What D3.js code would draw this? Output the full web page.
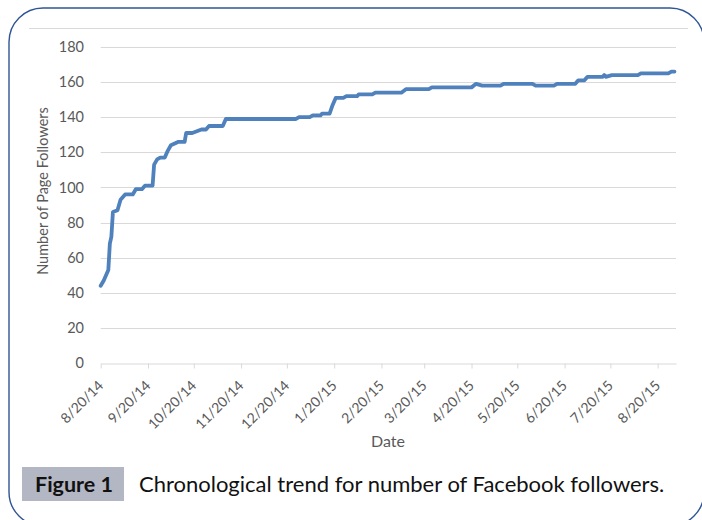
<!DOCTYPE html>
<html>
<head>
<meta charset="utf-8">
<script src="https://cdn.jsdelivr.net/npm/d3@7"></script>
<style>
  html, body { margin: 0; padding: 0; background: #fff; }
  svg { display: block; }
  text { font-family: Lato, "Open Sans", sans-serif; }
</style>
</head>
<body>
<svg id="chart" width="702" height="520"></svg>
<script>
// Daily follower counts, recorded at the days where the count changed
const dates = ["2014-08-20","2014-08-22","2014-08-24","2014-08-25","2014-08-26","2014-08-27","2014-08-28","2014-08-31",
  "2014-09-02","2014-09-05","2014-09-10","2014-09-12","2014-09-16","2014-09-18","2014-09-23","2014-09-24","2014-09-26","2014-09-28",
  "2014-10-01","2014-10-03","2014-10-05","2014-10-10","2014-10-14","2014-10-15","2014-10-19","2014-10-22","2014-10-25","2014-10-28","2014-10-30",
  "2014-11-08","2014-11-10","2014-12-26","2014-12-28",
  "2015-01-04","2015-01-06","2015-01-11","2015-01-12","2015-01-17","2015-01-19","2015-01-21","2015-01-26","2015-01-28",
  "2015-02-04","2015-02-05","2015-02-14","2015-02-16","2015-03-05","2015-03-08","2015-03-23","2015-03-25",
  "2015-04-20","2015-04-23","2015-04-27","2015-05-09","2015-05-11","2015-05-30","2015-06-01","2015-06-13","2015-06-15","2015-06-27","2015-06-29",
  "2015-07-03","2015-07-05","2015-07-15","2015-07-16","2015-07-17","2015-07-21","2015-08-07","2015-08-09","2015-08-27","2015-08-29","2015-08-31"];
const followers = [44,47,51,53,68,72,86,87,
  93,96,96,99,99,101,101,113,116,117,
  117,121,124,126,126,131,131,132,133,133,135,
  135,139,139,140,
  140,141,141,142,142,147,151,151,152,
  152,153,153,154,154,156,156,157,
  157,159,158,158,159,159,158,158,159,159,161,
  161,163,163,164,163,164,164,165,165,166,166];

// Axis ticks
const xTickDates = ["2014-08-20","2014-09-20","2014-10-20","2014-11-20","2014-12-20","2015-01-20","2015-02-20",
  "2015-03-20","2015-04-20","2015-05-20","2015-06-20","2015-07-20","2015-08-20"];
const yTicks = [0,20,40,60,80,100,120,140,160,180];
const xDomain = ["2014-08-20","2015-09-01"];

const yTitle = "Number of Page Followers";
const xTitle = "Date";
const figLabel = "Figure 1";
const caption = "Chronological trend for number of Facebook followers.";

const parse = d3.utcParse("%Y-%m-%d");
const fmt = d3.utcFormat("%-m/%-d/%y");
const data = dates.map((d, i) => ({ date: parse(d), value: followers[i] }));

const svg = d3.select("#chart");

// Outer rounded frame
const fx0 = 9, fy0 = 8, fx1 = 704, fy1 = 526, r = 34;
svg.append("rect")
  .attr("x", fx0).attr("y", fy0)
  .attr("width", fx1 - fx0).attr("height", fy1 - fy0)
  .attr("rx", r).attr("ry", r)
  .attr("fill", "none")
  .attr("stroke", "#2f5597")
  .attr("stroke-width", 1.4);

// Chart area top border
svg.append("line")
  .attr("x1", 29).attr("x2", 688)
  .attr("y1", 28.5).attr("y2", 28.5)
  .attr("stroke", "#d9d9d9").attr("stroke-width", 1);

const x = d3.scaleUtc()
  .domain(xDomain.map(parse))
  .range([100.7, 676]);
const y = d3.scaleLinear()
  .domain([0, 180])
  .range([363, 47]);

// Horizontal gridlines
svg.append("g")
  .selectAll("line")
  .data(yTicks.filter(v => v > 0))
  .join("line")
  .attr("x1", x.range()[0]).attr("x2", x.range()[1])
  .attr("y1", d => Math.round(y(d)) + 0.5).attr("y2", d => Math.round(y(d)) + 0.5)
  .attr("stroke", "#d9d9d9").attr("stroke-width", 1);

// Y axis labels (no axis line)
const yAxis = svg.append("g")
  .attr("transform", "translate(100,0)")
  .call(d3.axisLeft(y).tickValues(yTicks).tickSize(0).tickPadding(16));
yAxis.select(".domain").remove();
yAxis.selectAll("text")
  .attr("fill", "#595959")
  .style("font-size", "14.5px")
  .style("font-family", "Lato, sans-serif");

// X axis
const xAxis = svg.append("g")
  .attr("transform", "translate(0," + (Math.round(y(0)) + 0.5) + ")")
  .call(d3.axisBottom(x).tickValues(xTickDates.map(parse)).tickFormat(fmt).tickSize(5).tickSizeOuter(0));
xAxis.select(".domain").attr("stroke", "#d9d9d9");
xAxis.selectAll(".tick line").attr("stroke", "#d9d9d9");
xAxis.selectAll("text")
  .attr("fill", "#595959")
  .style("font-size", "14px")
  .style("font-family", "Lato, sans-serif")
  .attr("text-anchor", "end")
  .attr("dy", null)
  .attr("y", 0)
  .attr("transform", "translate(3,23) rotate(-45)");

// Series line
svg.append("path")
  .datum(data)
  .attr("fill", "none")
  .attr("stroke", "#4f81bd")
  .attr("stroke-width", 3.8)
  .attr("stroke-linejoin", "round")
  .attr("stroke-linecap", "round")
  .attr("d", d3.line().x(d => x(d.date)).y(d => y(d.value)));

// Axis titles
svg.append("text")
  .attr("transform", "translate(48,191) rotate(-90)")
  .attr("text-anchor", "middle")
  .attr("fill", "#595959")
  .style("font-size", "14.5px")
  .text(yTitle);

svg.append("text")
  .attr("x", 388).attr("y", 447)
  .attr("text-anchor", "middle")
  .attr("fill", "#595959")
  .style("font-size", "16px")
  .text(xTitle);

// Figure caption
svg.append("rect")
  .attr("x", 22).attr("y", 467)
  .attr("width", 102).attr("height", 34)
  .attr("fill", "#b3b7c3");
svg.append("text")
  .attr("x", 74).attr("y", 492)
  .attr("text-anchor", "middle")
  .attr("fill", "#111")
  .style("font-size", "21.5px")
  .style("font-weight", "bold")
  .text(figLabel);
svg.append("text")
  .attr("x", 139).attr("y", 492)
  .attr("fill", "#111")
  .style("font-size", "22px")
  .text(caption);
</script>
</body>
</html>
